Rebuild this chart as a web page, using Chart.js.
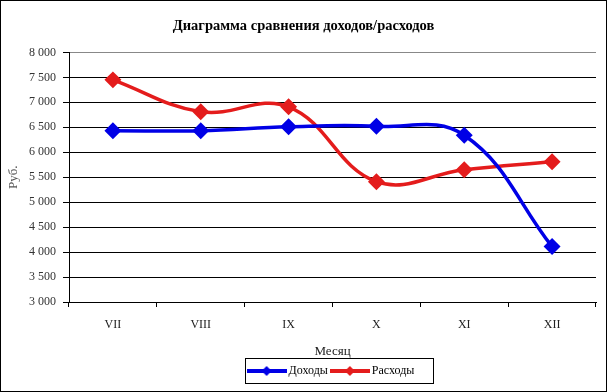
<!DOCTYPE html>
<html>
<head>
<meta charset="utf-8">
<script src="https://cdn.jsdelivr.net/npm/chart.js@4"></script>
<style>
  body { margin: 0; background: #fff; }
  #wrap { position: relative; width: 607px; height: 392px; box-shadow: inset 0 0 0 1px #000; }
  #chart { position: absolute; left: 0; top: 0; }
</style>
</head>
<body>
<div id="wrap"><canvas id="chart" width="607" height="392"></canvas></div>
<script>
const months = ["VII", "VIII", "IX", "X", "XI", "XII"];
const income = [6430, 6430, 6510, 6520, 6340, 4110];
const expenses = [7450, 6810, 6910, 5410, 5650, 5810];
const seriesNames = ["Доходы", "Расходы"];
const seriesColors = ["#0000e6", "#e41c1c"];

const serif = "'Liberation Serif', 'Times New Roman', serif";

// little line + diamond picture for the legend
function legendMark(color) {
  const c = document.createElement("canvas");
  c.width = 40;
  c.height = 12;
  const g = c.getContext("2d");
  g.strokeStyle = color;
  g.lineWidth = 4;
  g.beginPath();
  g.moveTo(0, 6);
  g.lineTo(40, 6);
  g.stroke();
  g.fillStyle = color;
  g.beginPath();
  g.moveTo(20, 1);
  g.lineTo(25, 6);
  g.lineTo(20, 11);
  g.lineTo(15, 6);
  g.closePath();
  g.fill();
  return c;
}

function fmt(v) {
  return String(v).replace(/\B(?=(\d{3})+$)/g, " ");
}

const legendBox = {
  id: "legendBox",
  afterLayout(chart) {
    // title centred on the whole picture, legend under the plot area
    const tb = chart.titleBlock;
    tb.left += 5.5;
    tb.right += 5.5;
    const lg = chart.legend;
    const ca = chart.chartArea;
    const shift = (ca.left + ca.right) / 2 - (lg.left + lg.right) / 2;
    lg.left += shift;
    lg.right += shift;
  },
  afterDraw(chart) {
    const boxes = chart.legend.legendHitBoxes;
    if (!boxes || !boxes.length) return;
    let l = Infinity, r = -Infinity, t = Infinity, b = -Infinity;
    boxes.forEach((h) => {
      l = Math.min(l, h.left);
      r = Math.max(r, h.left + h.width);
      t = Math.min(t, h.top);
      b = Math.max(b, h.top + h.height);
    });
    const ctx = chart.ctx;
    ctx.save();
    ctx.strokeStyle = "#000";
    ctx.lineWidth = 1;
    ctx.strokeRect(Math.round(l - 6) + 0.5, Math.round(t - 7) + 0.5, Math.round(r - l + 24), Math.round(b - t + 13));
    ctx.restore();
  },
};

new Chart(document.getElementById("chart"), {
  type: "line",
  data: {
    labels: months,
    datasets: [
      {
        label: seriesNames[0],
        data: income,
        borderColor: seriesColors[0],
        backgroundColor: seriesColors[0],
        borderWidth: 3.5,
        pointStyle: "rectRot",
        pointRadius: 6,
        tension: 0.4,
      },
      {
        label: seriesNames[1],
        data: expenses,
        borderColor: seriesColors[1],
        backgroundColor: seriesColors[1],
        borderWidth: 3.5,
        pointStyle: "rectRot",
        pointRadius: 6,
        tension: 0.4,
      },
    ],
  },
  options: {
    responsive: false,
    animation: false,
    layout: { padding: { left: 0, right: 11, top: 0, bottom: 5 } },
    plugins: {
      title: {
        display: true,
        text: "Диаграмма сравнения доходов/расходов",
        color: "#000",
        font: { family: serif, size: 14.5, weight: "bold" },
        padding: { top: 18, bottom: 17 },
      },
      legend: {
        display: true,
        position: "bottom",
        labels: {
          color: "#000",
          font: { family: serif, size: 12 },
          usePointStyle: true,
          pointStyleWidth: 32,
          padding: 6,
          generateLabels: (chart) =>
            chart.data.datasets.map((ds, i) => ({
              text: ds.label,
              pointStyle: legendMark(seriesColors[i]),
              fillStyle: seriesColors[i],
              strokeStyle: seriesColors[i],
              lineWidth: 0,
              fontColor: "#000",
              datasetIndex: i,
            })),
        },
      },
      tooltip: { enabled: false },
    },
    scales: {
      x: {
        offset: true,
        grid: {
          offset: true,
          drawOnChartArea: true,
          drawTicks: true,
          tickLength: 5,
          color: (c) => (c.index === months.length ? "#888" : "rgba(0,0,0,0)"),
          tickColor: "#000",
        },
        border: { display: true, color: "#000", width: 1 },
        ticks: { color: "#222", font: { family: serif, size: 12 }, padding: 11, maxRotation: 0 },
        title: {
          display: true,
          text: "Месяц",
          color: "#222",
          font: { family: serif, size: 13 },
          padding: { top: 0, bottom: 0 },
        },
        afterFit: (s) => { s.height = 57; },
      },
      y: {
        min: 3000,
        max: 8000,
        ticks: {
          stepSize: 500,
          color: "#333",
          font: { family: serif, size: 12 },
          padding: 7,
          callback: (v) => fmt(v),
        },
        grid: {
          color: (c) => (c.tick && c.tick.value === 8000 ? "#888" : "#000"),
          tickColor: "#000",
          tickLength: 6,
        },
        border: { display: true, color: "#000", width: 1 },
        title: {
          display: true,
          text: "Руб.",
          color: "#555",
          font: { family: serif, size: 13 },
          padding: { top: 6, bottom: 0 },
        },
        afterFit: (s) => { s.width = 69; },
      },
    },
  },
  plugins: [legendBox],
});
</script>
</body>
</html>
